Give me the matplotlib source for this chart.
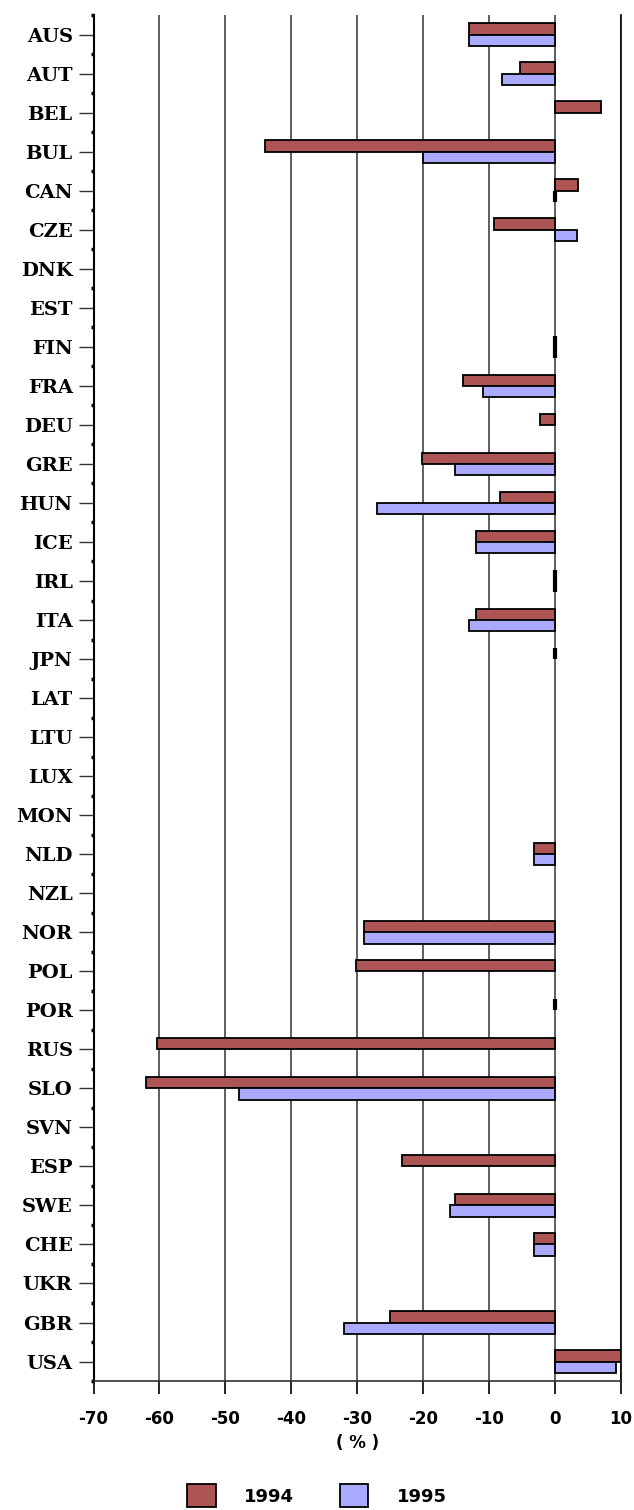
import numpy as np
import matplotlib.pyplot as plt
from matplotlib.ticker import FixedLocator

nan = np.nan
countries = ["AUS", "AUT", "BEL", "BUL", "CAN", "CZE", "DNK", "EST", "FIN", "FRA",
             "DEU", "GRE", "HUN", "ICE", "IRL", "ITA", "JPN", "LAT", "LTU", "LUX",
             "MON", "NLD", "NZL", "NOR", "POL", "POR", "RUS", "SLO", "SVN", "ESP",
             "SWE", "CHE", "UKR", "GBR", "USA"]
v1994 = [-13, -5.3, 7, -44, 3.5, -9.2, nan, nan, 0, -14,
         -2.3, -20.2, -8.3, -12, 0, -12, 0, nan, nan, nan,
         nan, -3.2, nan, -29, -30.2, 0, -60.3, -62, nan, -23.2,
         -15.2, -3.2, nan, -25, 10]
v1995 = [-13, -8, nan, -20, 0, 3.4, nan, nan, 0, -11,
         nan, -15.2, -27, -12, 0, -13, nan, nan, nan, nan,
         nan, -3.2, nan, -29, nan, nan, nan, -48, nan, nan,
         -16, -3.2, nan, -32, 9.3]
years = ["1994", "1995"]
colors = ["#AD5555", "#AAAAFF"]

fig = plt.figure(figsize=(6.34, 15.10), dpi=100)
ax = fig.add_axes([0.1475, 0.0854, 0.832, 0.9046])

y = np.arange(len(countries))
h = 0.29
for vals, off, c, lab in [(v1994, -h / 2, colors[0], years[0]),
                          (v1995, h / 2, colors[1], years[1])]:
    bars = ax.barh(y + off, vals, height=h, color=c, edgecolor="black", linewidth=1.3,
                   label=lab, zorder=3)
    # zero values show only as a heavy black stroke
    for b, v in zip(bars, vals):
        if v == 0:
            b.set_linewidth(3)

ax.set_xlim(-70, 10)
ax.set_ylim(len(countries) - 0.5, -0.5)
ax.set_xticks(np.arange(-70, 11, 10))
ax.set_xticklabels([str(t) for t in range(-70, 11, 10)], fontweight="bold",
                   fontsize=12, family="DejaVu Sans")
ax.set_yticks(y)
ax.set_yticklabels(countries, fontweight="bold", fontsize=14, family="DejaVu Serif")
ax.yaxis.set_minor_locator(FixedLocator(np.arange(-0.5, len(countries), 1)))
ax.tick_params(axis="y", which="major", direction="out", length=11, width=1,
               color="#333333", pad=4)
ax.tick_params(axis="y", which="minor", direction="out", length=2, width=2.5, color="black")
ax.tick_params(axis="x", which="major", direction="out", length=9, width=1.2,
               color="black", pad=12)

ax.grid(axis="x", color="#333333", linewidth=1.1, zorder=0)
ax.spines["top"].set_visible(False)
ax.spines["right"].set_linewidth(1.2)
ax.spines["left"].set_linewidth(1.5)
ax.spines["bottom"].set_linewidth(1.2)
ax.spines["bottom"].set_color("#333333")

ax.set_xlabel("( % )", fontweight="bold", fontsize=12, labelpad=4)

fig.legend(loc="upper center", bbox_to_anchor=(0.5, 1 - 1468 / 1510), ncol=2,
           frameon=False, prop={"weight": "bold", "size": 13},
           handlelength=1.6, handleheight=1.6, columnspacing=2.5, handletextpad=1.6)

fig.savefig("out.png", dpi=100)
